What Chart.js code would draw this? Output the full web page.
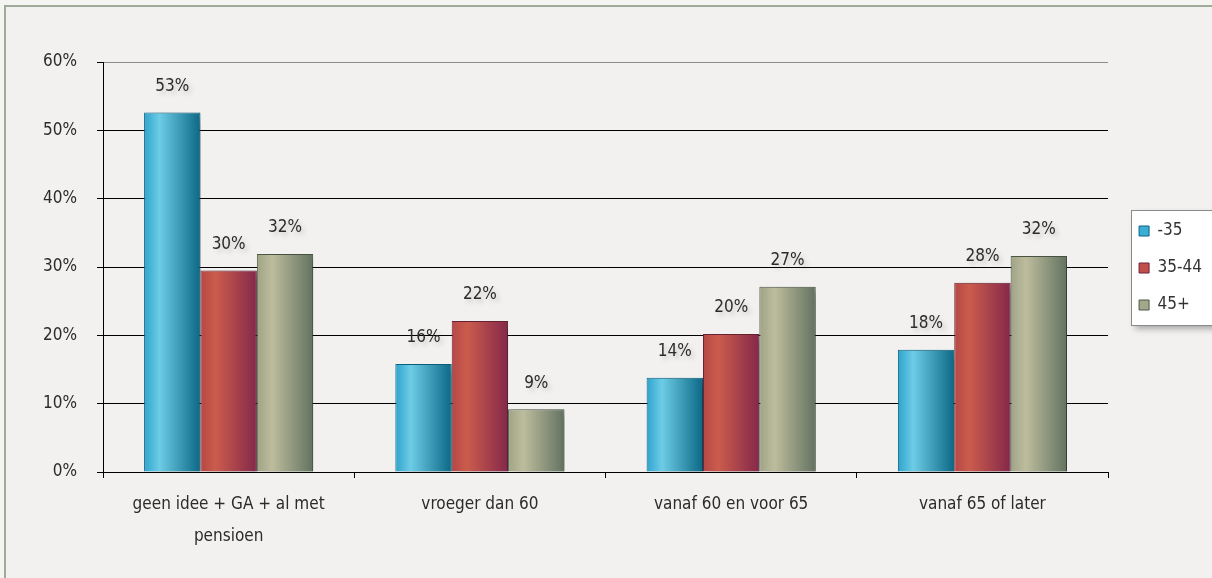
<!DOCTYPE html>
<html>
<head>
<meta charset="utf-8">
<script src="https://cdn.jsdelivr.net/npm/chart.js@4"></script>
<style>
  html, body { margin: 0; padding: 0; background: #f4f4f2; overflow: hidden; }
  #wrap { position: relative; width: 1212px; height: 578px; }
  #frame { position: absolute; left: 4px; top: 5px; width: 1400px; height: 800px;
           border: 2px solid #9eab98; background: #f2f1ef; box-sizing: border-box; }
  canvas { position: absolute; left: 0; top: 0; }
</style>
</head>
<body>
<div id="wrap">
  <div id="frame"></div>
  <canvas id="pensionChart" width="1212" height="578"></canvas>
</div>
<script>
const categories = [
  ['geen idee + GA + al met', 'pensioen'],
  'vroeger dan 60',
  'vanaf 60 en voor 65',
  'vanaf 65 of later'
];
const seriesNames = ['-35', '35-44', '45+'];
const under35 = [52.6, 15.8, 13.8, 17.9];
const from35to44 = [29.5, 22.1, 20.2, 27.7];
const over45 = [31.9, 9.2, 27.1, 31.6];
const yTicks = [0, 10, 20, 30, 40, 50, 60];

const FONT = "'DejaVu Sans Condensed', 'DejaVu Sans', sans-serif";

// colours per series: left edge, highlight, right edge, border, legend fill
const palette = [
  { left: '#2ea3cd', hi: '#6dcce6', right: '#0b6886', border: '#0b6480', solid: '#3aaed6' },
  { left: '#b54747', hi: '#cb5c4c', right: '#84284a', border: '#6c2236', solid: '#c04e4a' },
  { left: '#9fa386', hi: '#bdbd9d', right: '#627260', border: '#4d5847', solid: '#a3a78c' }
];

function barGradient(context) {
  const chart = context.chart;
  const xScale = chart.scales.x;
  const p = palette[context.datasetIndex];
  if (!xScale || context.dataIndex === undefined) return p.solid;
  const catWidth = xScale.width / categories.length;
  const groupWidth = catWidth * 0.673;
  const barWidth = groupWidth / 3;
  const center = xScale.getPixelForValue(context.dataIndex);
  const x0 = center - groupWidth / 2 + context.datasetIndex * barWidth;
  const g = chart.ctx.createLinearGradient(x0, 0, x0 + barWidth, 0);
  g.addColorStop(0, p.left);
  g.addColorStop(0.27, p.hi);
  g.addColorStop(1, p.right);
  return g;
}

// move the legend so it sits in its framed box
const legendShift = {
  id: 'legendShift',
  afterLayout(chart) {
    const lg = chart.legend;
    if (!lg) return;
    lg.left += 11; lg.right += 11;
    lg.top -= 52; lg.bottom -= 52;
  }
};

// soft drop shadow behind the bars
const barShadow = {
  id: 'barShadow',
  beforeDatasetsDraw(chart) {
    const ctx = chart.ctx;
    ctx.save();
    ctx.shadowColor = 'rgba(0, 0, 0, 0.35)';
    ctx.shadowBlur = 10;
    ctx.shadowOffsetX = 8;
    ctx.shadowOffsetY = 4;
  },
  afterDatasetsDraw(chart) {
    chart.ctx.restore();
  }
};

// percentage labels above the bars
const valueLabels = {
  id: 'valueLabels',
  afterDatasetsDraw(chart) {
    const ctx = chart.ctx;
    ctx.save();
    ctx.font = '17px ' + FONT;
    ctx.fillStyle = '#2b2b2b';
    ctx.textAlign = 'center';
    ctx.textBaseline = 'middle';
    ctx.shadowColor = 'rgba(0, 0, 0, 0.18)';
    ctx.shadowBlur = 5;
    ctx.shadowOffsetX = 3;
    ctx.shadowOffsetY = 3;
    chart.data.datasets.forEach((ds, i) => {
      chart.getDatasetMeta(i).data.forEach((bar, j) => {
        ctx.fillText(Math.round(ds.data[j]) + '%', bar.x, bar.y - 26);
      });
    });
    ctx.restore();
  }
};

// white framed box behind the legend
const legendBox = {
  id: 'legendBox',
  beforeDraw(chart) {
    const ctx = chart.ctx;
    const x = 1131, y = 210, w = 90, h = 115;
    ctx.save();
    ctx.shadowColor = 'rgba(0, 0, 0, 0.3)';
    ctx.shadowBlur = 6;
    ctx.shadowOffsetX = 4;
    ctx.shadowOffsetY = 4;
    ctx.fillStyle = '#ffffff';
    ctx.fillRect(x, y, w, h);
    ctx.restore();
    ctx.save();
    ctx.strokeStyle = '#8a8a8a';
    ctx.lineWidth = 1;
    ctx.strokeRect(x + 0.5, y + 0.5, w, h);
    ctx.restore();
  }
};

const datasets = [under35, from35to44, over45].map((values, i) => ({
  label: seriesNames[i],
  data: values,
  backgroundColor: barGradient,
  borderColor: palette[i].border,
  borderWidth: 1,
  categoryPercentage: 0.673,
  barPercentage: 1
}));

new Chart(document.getElementById('pensionChart'), {
  type: 'bar',
  data: { labels: categories, datasets: datasets },
  plugins: [legendShift, legendBox, barShadow, valueLabels],
  options: {
    responsive: false,
    animation: false,
    layout: { padding: { top: 62, right: 11, left: 0, bottom: 0 } },
    plugins: {
      tooltip: { enabled: false },
      legend: {
        position: 'right',
        labels: {
          font: { family: FONT, size: 17 },
          color: '#333333',
          boxWidth: 10,
          boxHeight: 10,
          padding: 20,
          generateLabels(chart) {
            return chart.data.datasets.map((ds, i) => ({
              text: ds.label,
              fillStyle: palette[i].solid,
              strokeStyle: palette[i].border,
              fontColor: '#333333',
              lineWidth: 1,
              datasetIndex: i,
              hidden: false
            }));
          }
        }
      }
    },
    scales: {
      x: {
        offset: true,
        afterFit(scale) { scale.height = 106; },
        grid: {
          offset: true,
          drawOnChartArea: false,
          tickLength: 6,
          tickColor: '#000000'
        },
        border: { color: '#000000', width: 1 },
        ticks: {
          font: { family: FONT, size: 17, lineHeight: 1.9 },
          color: '#2b2b2b',
          padding: 10,
          maxRotation: 0
        }
      },
      y: {
        min: 0,
        max: 60,
        afterFit(scale) { scale.width = 103; },
        afterBuildTicks(scale) {
          scale.ticks = yTicks.map(v => ({ value: v }));
        },
        grid: {
          color: ctx => (ctx.tick && ctx.tick.value === 60 ? '#8c8c8c' : '#000000'),
          tickColor: '#000000',
          tickLength: 6
        },
        border: { color: '#000000', width: 1 },
        ticks: {
          font: { family: FONT, size: 17 },
          color: '#2b2b2b',
          padding: 20,
          callback: v => v + '%'
        }
      }
    }
  }
});
</script>
</body>
</html>
